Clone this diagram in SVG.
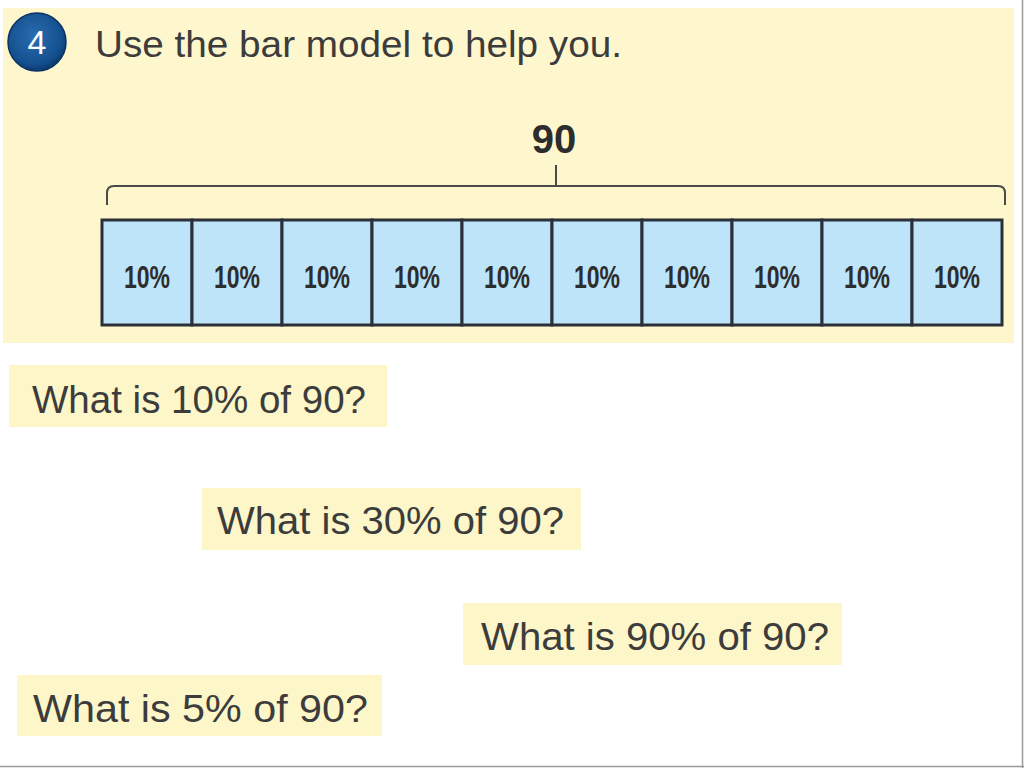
<svg xmlns="http://www.w3.org/2000/svg" width="1024" height="768" viewBox="0 0 1024 768">
<defs>
<radialGradient id="blue" cx="0.45" cy="0.4" r="0.6">
<stop offset="0" stop-color="#2a6db0"/>
<stop offset="0.8" stop-color="#14508f"/>
<stop offset="1" stop-color="#0c3a6e"/>
</radialGradient>
<style>
.hand{font-family:"Liberation Sans",Arial,sans-serif;fill:#3c3c3c}
.q{font-size:38px}
.box{fill:#fdf6c8}
.cell{fill:#bde4f8;stroke:#2b3038;stroke-width:3}
.pct{font-family:"Liberation Sans",Arial,sans-serif;font-weight:bold;font-size:31px;fill:#2d2d2d;text-anchor:middle}
</style>
</defs>
<rect width="1024" height="768" fill="#ffffff"/>
<line x1="1022.5" y1="0" x2="1022.5" y2="768" stroke="#9a9a9a" stroke-width="1.5"/>
<line x1="0" y1="766.5" x2="1024" y2="766.5" stroke="#9a9a9a" stroke-width="1.5"/>

<g id="panel">
<rect x="3" y="8" width="1011" height="335" fill="#fef7cd"/>
</g>

<g id="badge">
<circle cx="37" cy="42" r="29" fill="url(#blue)" stroke="#0a3363" stroke-width="1.5"/>
<text x="37" y="54" text-anchor="middle" font-family="Liberation Sans, Arial, sans-serif" font-size="34" fill="#ffffff">4</text>
</g>

<g id="title">
<text class="hand" x="95" y="57" font-size="36" textLength="527" lengthAdjust="spacingAndGlyphs">Use the bar model to help you.</text>
</g>

<g id="total-label">
<text x="554" y="153" text-anchor="middle" font-family="Liberation Sans, Arial, sans-serif" font-weight="bold" font-size="40" fill="#2d2d2d">90</text>
</g>

<g id="connectors">
<path d="M107 205 V193 Q107 186 114 186 H998 Q1005 186 1005 193 V205" fill="none" stroke="#4a4a4a" stroke-width="2"/>
<line x1="556" y1="186" x2="556" y2="165" stroke="#4a4a4a" stroke-width="2"/>
</g>

<g id="bar">
<rect class="cell" x="102" y="220" width="90" height="105"/>
<rect class="cell" x="192" y="220" width="90" height="105"/>
<rect class="cell" x="282" y="220" width="90" height="105"/>
<rect class="cell" x="372" y="220" width="90" height="105"/>
<rect class="cell" x="462" y="220" width="90" height="105"/>
<rect class="cell" x="552" y="220" width="90" height="105"/>
<rect class="cell" x="642" y="220" width="90" height="105"/>
<rect class="cell" x="732" y="220" width="90" height="105"/>
<rect class="cell" x="822" y="220" width="90" height="105"/>
<rect class="cell" x="912" y="220" width="90" height="105"/>
<text class="pct" x="147" y="288" textLength="46" lengthAdjust="spacingAndGlyphs">10%</text>
<text class="pct" x="237" y="288" textLength="46" lengthAdjust="spacingAndGlyphs">10%</text>
<text class="pct" x="327" y="288" textLength="46" lengthAdjust="spacingAndGlyphs">10%</text>
<text class="pct" x="417" y="288" textLength="46" lengthAdjust="spacingAndGlyphs">10%</text>
<text class="pct" x="507" y="288" textLength="46" lengthAdjust="spacingAndGlyphs">10%</text>
<text class="pct" x="597" y="288" textLength="46" lengthAdjust="spacingAndGlyphs">10%</text>
<text class="pct" x="687" y="288" textLength="46" lengthAdjust="spacingAndGlyphs">10%</text>
<text class="pct" x="777" y="288" textLength="46" lengthAdjust="spacingAndGlyphs">10%</text>
<text class="pct" x="867" y="288" textLength="46" lengthAdjust="spacingAndGlyphs">10%</text>
<text class="pct" x="957" y="288" textLength="46" lengthAdjust="spacingAndGlyphs">10%</text>
</g>

<g id="q1">
<rect class="box" x="9" y="365" width="378" height="62"/>
<text class="hand q" x="32" y="413" textLength="334" lengthAdjust="spacingAndGlyphs">What is 10% of 90?</text>
</g>
<g id="q2">
<rect class="box" x="202" y="488" width="379" height="62"/>
<text class="hand q" x="217" y="534" textLength="347" lengthAdjust="spacingAndGlyphs">What is 30% of 90?</text>
</g>
<g id="q3">
<rect class="box" x="463" y="603" width="379" height="62"/>
<text class="hand q" x="481" y="650" textLength="348" lengthAdjust="spacingAndGlyphs">What is 90% of 90?</text>
</g>
<g id="q4">
<rect class="box" x="17" y="675" width="365" height="61"/>
<text class="hand q" x="33" y="722" textLength="335" lengthAdjust="spacingAndGlyphs">What is 5% of 90?</text>
</g>
</svg>
